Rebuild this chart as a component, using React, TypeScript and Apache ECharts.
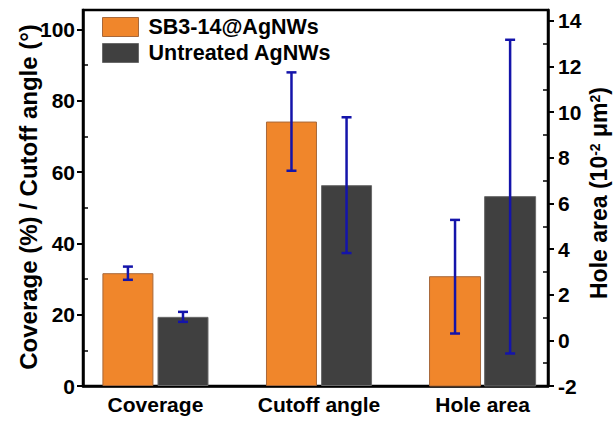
import React, { useEffect, useRef } from 'react';
import * as echarts from 'echarts';

const categories = ['Coverage', 'Cutoff angle', 'Hole area'];
const seriesNames = ['SB3-14@AgNWs', 'Untreated AgNWs'];
// which y axis each category uses: 0 = left (%, °), 1 = right (10^-2 μm²)
const categoryAxis = [0, 0, 1];
const sbValues = [31.65, 74.2, 2.79];
const sbErrors = [1.85, 13.8, 2.49];
const unValues = [19.4, 56.35, 6.3];
const unErrors = [1.4, 19.05, 6.875];
const leftTicks = [0, 20, 40, 60, 80, 100];
const leftMinor = [10, 30, 50, 70, 90];
const rightTicks = [-2, 0, 2, 4, 6, 8, 10, 12, 14];
const rightMinor = [-1, 1, 3, 5, 7, 9, 11, 13];

const LEFT_MIN = 0;
const LEFT_MAX = 105.5;
const RIGHT_MIN = -2;
const RIGHT_MAX = 14.48;

const FONT = '"Liberation Sans", Arial, sans-serif';
const COLORS = ['#F0862B', '#404040'];
const BORDERS = ['#a8683a', '#6a6a6a'];
const ERR = '#1414aa';
const BAR_W = 51;
const GAP = 0.08;

export default function App() {
  const ref = useRef<HTMLDivElement>(null);
  useEffect(() => {
    const chart = echarts.init(ref.current!, null, { renderer: 'svg' });
    const valueSets = [sbValues, unValues];
    const errSets = [sbErrors, unErrors];
    const series: any[] = [];
    const offset = (BAR_W * (1 + GAP)) / 2;
    // left-axis bars: regular bar series
    for (let s = 0; s < 2; s++) {
      const data: any[] = [];
      categories.forEach((_, i) => {
        if (categoryAxis[i] === 0) data.push([i + 1, valueSets[s][i]]);
      });
      series.push({
        type: 'bar',
        name: seriesNames[s],
        xAxisIndex: 0,
        yAxisIndex: 0,
        barWidth: BAR_W,
        barGap: GAP * 100 + '%',
        itemStyle: { color: COLORS[s], borderColor: BORDERS[s], borderWidth: 1 },
        data,
      });
    }
    // right-axis bars: rise from the right axis minimum
    for (let s = 0; s < 2; s++) {
      const data: any[] = [];
      categories.forEach((_, i) => {
        if (categoryAxis[i] === 1) data.push([i + 1, valueSets[s][i]]);
      });
      const dx = s === 0 ? -offset : offset;
      series.push({
        type: 'custom',
        name: seriesNames[s],
        xAxisIndex: 1,
        yAxisIndex: 1,
        encode: { x: 0, y: 1 },
        itemStyle: { color: COLORS[s], borderColor: BORDERS[s], borderWidth: 1 },
        data,
        renderItem: (params: any, api: any) => {
          const x = api.value(0);
          const v = api.value(1);
          const top = api.coord([x, v]);
          const base = api.coord([x, RIGHT_MIN]);
          const cx = top[0] + dx;
          return {
            type: 'rect',
            shape: { x: cx - BAR_W / 2, y: top[1], width: BAR_W, height: base[1] - top[1] },
            style: { fill: COLORS[s], stroke: BORDERS[s], lineWidth: 1 },
          };
        },
      });
    }
    for (let a = 0; a < 2; a++) {
      for (let s = 0; s < 2; s++) {
        const data: any[] = [];
        categories.forEach((_, i) => {
          if (categoryAxis[i] === a) data.push([i + 1, valueSets[s][i], errSets[s][i]]);
        });
        const dx = s === 0 ? -offset : offset;
        series.push({
          type: 'custom',
          xAxisIndex: a,
          yAxisIndex: a,
          z: 5,
          encode: { x: 0, y: 1 },
          data,
          renderItem: (params: any, api: any) => {
            const x = api.value(0);
            const m = api.value(1);
            const e = api.value(2);
            const top = api.coord([x, m + e]);
            const bot = api.coord([x, m - e]);
            const cx = top[0] + dx;
            const st = { stroke: ERR, lineWidth: 2.5 };
            return {
              type: 'group',
              children: [
                { type: 'line', shape: { x1: cx, y1: top[1], x2: cx, y2: bot[1] }, style: st },
                { type: 'line', shape: { x1: cx - 5, y1: top[1], x2: cx + 5, y2: top[1] }, style: st },
                { type: 'line', shape: { x1: cx - 5, y1: bot[1], x2: cx + 5, y2: bot[1] }, style: st },
              ],
            };
          },
        });
      }
    }

    const labelStyle = { fontSize: 21, fontWeight: 'bold', color: '#000', fontFamily: FONT };
    const line = { show: true, lineStyle: { color: '#000', width: 2.5 } };
    const yMain = (pos: string, min: number, max: number, interval: number, ticks: number[], margin: number) => ({
      type: 'value',
      position: pos,
      min,
      max,
      interval,
      axisLine: line,
      axisTick: { show: true, length: 6, customValues: ticks, lineStyle: { color: '#000', width: 2 } },
      axisLabel: { ...labelStyle, margin, customValues: ticks },
      splitLine: { show: false },
    });
    const yMinor = (pos: string, min: number, max: number, interval: number, ticks: number[]) => ({
      type: 'value',
      position: pos,
      min,
      max,
      interval,
      axisLine: { show: false },
      axisTick: { show: true, inside: true, length: 5, customValues: ticks, lineStyle: { color: '#000', width: 1.5 } },
      axisLabel: { show: false },
      splitLine: { show: false },
    });
    const xBase = {
      type: 'value',
      min: 0.557,
      max: 3.4,
      splitLine: { show: false },
      axisTick: { show: false },
    };

    chart.setOption({
      animation: false,
      grid: { left: 83, right: 66, top: 10, bottom: 37, show: true, borderColor: '#000', borderWidth: 2.5 },
      legend: {
        data: seriesNames.map((n, i) => ({
          name: n,
          icon: 'rect',
          itemStyle: { color: COLORS[i], borderColor: BORDERS[i], borderWidth: 1 },
        })),
        icon: 'rect',
        orient: 'vertical',
        left: 102,
        top: 15,
        padding: 0,
        itemWidth: 36,
        itemHeight: 19,
        itemGap: 2,
        textStyle: { ...labelStyle, fontSize: 21.5, lineHeight: 24, padding: [0, 0, 0, 5] },
      },
      xAxis: [
        {
          ...xBase,
          position: 'bottom',
          axisLine: line,
          axisLabel: {
            ...labelStyle,
            margin: 8,
            customValues: categories.map((_, i) => i + 1),
            formatter: (v: number) => categories[Math.round(v) - 1] ?? '',
          },
        },
        { ...xBase, show: false },
      ],
      yAxis: [
        yMain('left', LEFT_MIN, LEFT_MAX, 20, leftTicks, 8),
        yMain('right', RIGHT_MIN, RIGHT_MAX, 2, rightTicks, 10),
        yMinor('left', LEFT_MIN, LEFT_MAX, 20, leftMinor),
        yMinor('right', RIGHT_MIN, RIGHT_MAX, 2, rightMinor),
      ],
      series,
      graphic: [
        {
          type: 'text',
          x: 28,
          y: 197,
          rotation: Math.PI / 2,
          style: {
            text: 'Coverage (%) / Cutoff angle (°)',
            font: `bold 24px ${FONT}`,
            fill: '#000',
            align: 'center',
            verticalAlign: 'middle',
            textAlign: 'center',
            textVerticalAlign: 'middle',
          },
        },
        {
          type: 'text',
          x: 599,
          y: 193,
          rotation: Math.PI / 2,
          style: {
            text: 'Hole area (10{sup|-2} μm{sup|2})',
            font: `bold 23px ${FONT}`,
            fill: '#000',
            align: 'center',
            verticalAlign: 'middle',
            textAlign: 'center',
            textVerticalAlign: 'middle',
            rich: {
              sup: { fontSize: 14, fontWeight: 'bold', fontFamily: FONT, verticalAlign: 'top', fill: '#000' },
            },
          },
        },
      ],
    });
    return () => chart.dispose();
  }, []);
  return <div ref={ref} style={{ position: 'absolute', left: 0, top: 0, width: 614, height: 423, background: '#fff' }} />;
}
